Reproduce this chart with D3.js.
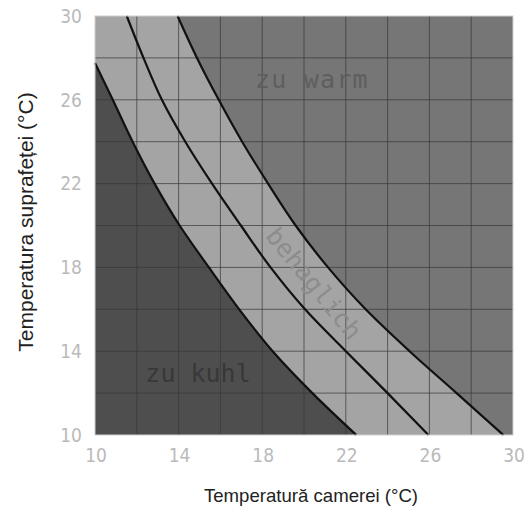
<!DOCTYPE html>
<html>
<head>
<meta charset="utf-8">
<script src="https://cdn.jsdelivr.net/npm/d3@7"></script>
<style>
  body { margin: 0; background: #fff; }
  svg { display: block; }
</style>
</head>
<body>
<svg id="chart" width="527" height="509"></svg>
<script>
// boundary curves, as room temperature at each surface temperature
const surfaceTemps = [30, 28, 26, 24, 22, 20, 18, 16, 14, 12, 10];
const coolSurface = [27.76, 26, 24, 22, 20, 18, 16, 14, 12, 10];
const coolRoom = [10, 10.85, 11.8, 12.85, 14.05, 15.45, 16.9, 18.5, 20.4, 22.5];
const optimumRoom = [11.52, 12.32, 13.2, 14.32, 15.6, 16.98, 18.4, 20.05, 22.0, 24.0, 25.95];
const warmRoom = [13.95, 14.88, 15.92, 17.04, 18.28, 19.6, 21.15, 22.95, 25.05, 27.3, 29.54];

const tickValues = [10, 14, 18, 22, 26, 30];
const gridValues = [12, 14, 16, 18, 20, 22, 24, 26, 28];
const zoneNames = ["zu warm", "behaglich", "zu kuhl"];
const zoneRoom = [20.38, 20.43, 14.93];
const zoneSurface = [26.9, 17.2, 12.9];
const zoneAngle = [0, 51, 0];

const svg = d3.select("#chart");
const plotLeft = 95, plotRight = 513, plotTop = 16, plotBottom = 435;

const x = d3.scaleLinear().domain([10, 30]).range([plotLeft, plotRight]);
const y = d3.scaleLinear().domain([10, 30]).range([plotBottom, plotTop]);

const coolLimit = d3.zip(coolRoom, coolSurface);
const optimum = d3.zip(optimumRoom, surfaceTemps);
const warmLimit = d3.zip(warmRoom, surfaceTemps);

const line = d3.line()
  .x((d) => x(d[0]))
  .y((d) => y(d[1]))
  .curve(d3.curveMonotoneY);

// background (too warm)
svg.append("rect")
  .attr("x", plotLeft).attr("y", plotTop)
  .attr("width", plotRight - plotLeft).attr("height", plotBottom - plotTop)
  .attr("fill", "#767676");

// comfortable band: everything below the warm limit
svg.append("path")
  .attr("d", line(warmLimit) + `L${x(10)},${y(10)}L${x(10)},${y(30)}Z`)
  .attr("fill", "#a4a4a4");

// too cool
svg.append("path")
  .attr("d", line(coolLimit) + `L${x(10)},${y(10)}Z`)
  .attr("fill", "#4e4e4e");

// grid
const grid = svg.append("g").attr("stroke", "#383838").attr("stroke-opacity", 0.7).attr("stroke-width", 1);
grid.selectAll("line.v").data(gridValues).enter().append("line")
  .attr("x1", (d) => x(d)).attr("x2", (d) => x(d))
  .attr("y1", plotTop).attr("y2", plotBottom);
grid.selectAll("line.h").data(gridValues).enter().append("line")
  .attr("y1", (d) => y(d)).attr("y2", (d) => y(d))
  .attr("x1", plotLeft).attr("x2", plotRight);

// curves
svg.append("g")
  .selectAll("path")
  .data([coolLimit, optimum, warmLimit])
  .enter()
  .append("path")
  .attr("d", line)
  .attr("fill", "none")
  .attr("stroke", "#111")
  .attr("stroke-width", 2.2);

// plot frame
svg.append("rect")
  .attr("x", plotLeft).attr("y", plotTop)
  .attr("width", plotRight - plotLeft).attr("height", plotBottom - plotTop)
  .attr("fill", "none").attr("stroke", "#d0d0d0").attr("stroke-width", 1);

// zone labels
svg.append("g")
  .selectAll("text")
  .data(zoneNames)
  .enter()
  .append("text")
  .attr("transform", (d, i) => `translate(${x(zoneRoom[i])},${y(zoneSurface[i])}) rotate(${zoneAngle[i]})`)
  .attr("text-anchor", "middle")
  .attr("dy", "0.3em")
  .attr("font-family", "DejaVu Sans Mono")
  .attr("font-size", 25)
  .attr("letter-spacing", (d, i) => [1.2, 0, 0][i])
  .attr("fill", (d, i) => ["#5e5e5e", "#8c8c8c", "#383838"][i])
  .text((d) => d);

// tick labels
const tickStyle = (sel) => sel
  .attr("font-family", "DejaVu Sans Condensed, DejaVu Sans")
  .attr("font-size", 19)
  .attr("font-weight", 300)
  .attr("fill", "#bababa");

svg.append("g")
  .selectAll("text")
  .data(tickValues)
  .enter()
  .append("text")
  .attr("x", 82)
  .attr("y", (d) => y(d))
  .attr("dy", "0.36em")
  .attr("text-anchor", "end")
  .text((d) => d)
  .call(tickStyle);

svg.append("g")
  .selectAll("text")
  .data(tickValues)
  .enter()
  .append("text")
  .attr("x", (d) => x(d) + 1)
  .attr("y", 462)
  .attr("text-anchor", "middle")
  .text((d) => d)
  .call(tickStyle);

// axis titles
svg.append("text")
  .attr("x", 311)
  .attr("y", 502)
  .attr("text-anchor", "middle")
  .attr("font-family", "Liberation Sans, Arial, sans-serif")
  .attr("font-size", 18.6)
  .attr("fill", "#222")
  .text("Temperatură camerei (°C)");

svg.append("text")
  .attr("transform", `translate(33,222) rotate(-90)`)
  .attr("text-anchor", "middle")
  .attr("font-family", "Liberation Sans, Arial, sans-serif")
  .attr("font-size", 21)
  .attr("fill", "#222")
  .text("Temperatura suprafeței (°C)");
</script>
</body>
</html>
